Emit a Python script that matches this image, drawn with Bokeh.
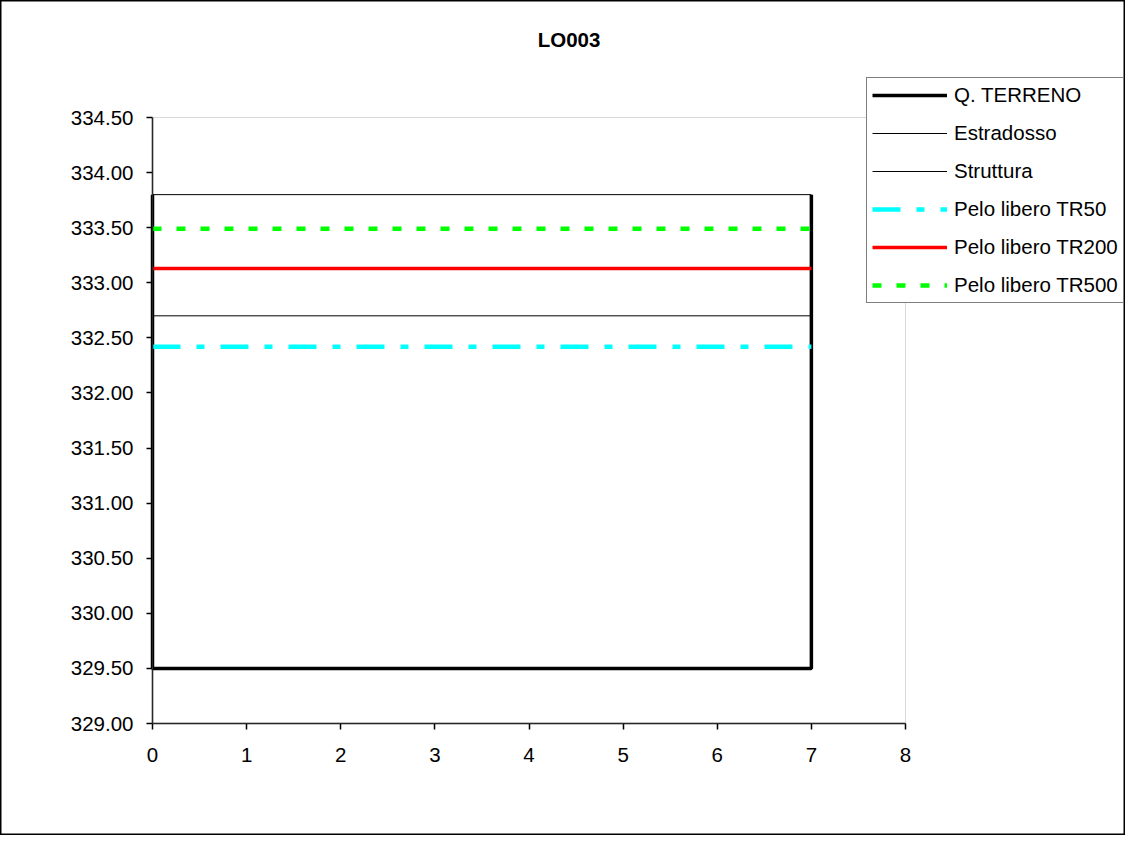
from bokeh.plotting import figure
from bokeh.models import (Range1d, FixedTicker, PrintfTickFormatter, Legend, LegendItem,
                          Label, BoxAnnotation)
from bokeh.embed import file_html
from bokeh.resources import INLINE

title_text = "LO003"
x_terrain = [0, 0, 7, 7]
y_terrain = [333.80, 329.50, 329.50, 333.80]
x_span = [0, 7]
estradosso = [333.80, 333.80]
struttura = [332.70, 332.70]
tr50 = [332.42, 332.42]
tr200 = [333.13, 333.13]
tr500 = [333.49, 333.49]
x_ticks = [0, 1, 2, 3, 4, 5, 6, 7, 8]
y_ticks = [329.0, 329.5, 330.0, 330.5, 331.0, 331.5, 332.0, 332.5, 333.0, 333.5, 334.0, 334.5]
labels = ["Q. TERRENO", "Estradosso", "Struttura", "Pelo libero TR50",
          "Pelo libero TR200", "Pelo libero TR500"]
X0, X1 = 0, 8
Y0, Y1 = 329.0, 334.5

FONT = "Liberation Sans"
W, H = 1125, 835
# plot-area position on the canvas (pixels)
PL, PR, PT, PB = 152, 905, 117, 723
sx = (PR - PL) / (X1 - X0)
sy = (PB - PT) / (Y1 - Y0)
x_range = Range1d(X0 - PL / sx, X1 + (W - PR) / sx)
y_range = Range1d(Y0 - (H - PB) / sy, Y1 + PT / sy)

p = figure(width=W, height=H, output_backend="svg", toolbar_location=None, title=None,
           x_range=x_range, y_range=y_range,
           min_border=0, min_border_left=0, min_border_right=0,
           min_border_top=0, min_border_bottom=0)
p.xgrid.visible = False
p.ygrid.visible = False
p.outline_line_color = "black"
p.outline_line_width = 2
p.background_fill_color = "white"
p.border_fill_color = "white"

# plot-area border (grey, top/right visible)
p.add_layout(BoxAnnotation(left=X0, right=X1, bottom=Y0, top=Y1, fill_alpha=0,
                           line_color="#808080", line_width=1))

for ax in (p.xaxis[0], p.yaxis[0]):
    ax.axis_line_color = "black"
    ax.axis_line_width = 1.5
    ax.major_tick_line_color = "black"
    ax.major_tick_line_width = 1.5
    ax.major_tick_out = 6
    ax.major_tick_in = 0
    ax.minor_tick_line_color = None
    ax.major_label_text_font = FONT
    ax.major_label_text_font_size = "20.5px"
    ax.major_label_text_color = "black"

p.xaxis[0].ticker = FixedTicker(ticks=x_ticks)
p.yaxis[0].ticker = FixedTicker(ticks=y_ticks)
p.yaxis[0].formatter = PrintfTickFormatter(format="%.2f")
p.xaxis[0].fixed_location = Y0
p.yaxis[0].fixed_location = X0
p.xaxis[0].bounds = (X0, X1)
p.yaxis[0].bounds = (Y0, Y1)
p.xaxis[0].major_label_standoff = 18
p.yaxis[0].major_label_standoff = 13

r_ter = p.line(x_terrain, y_terrain, line_color="black", line_width=3.5)
r_est = p.line(x_span, estradosso, line_color="black", line_width=1)
r_str = p.line(x_span, struttura, line_color="black", line_width=1)
r_50 = p.line(x_span, tr50, line_color="#00FFFF", line_width=4.5, line_dash="28 16 8 16")
r_200 = p.line(x_span, tr200, line_color="#FF0000", line_width=3.5)
r_500 = p.line(x_span, tr500, line_color="#00FF00", line_width=4.5, line_dash="9 15")

items = [LegendItem(label=l, renderers=[r]) for l, r in
         zip(labels, [r_ter, r_est, r_str, r_50, r_200, r_500])]
legend = Legend(items=items, location=(866, H - 303), orientation="vertical",
                glyph_width=75, glyph_height=24, label_height=24, spacing=14,
                padding=5, margin=0, label_standoff=7,
                label_text_font=FONT, label_text_font_size="20.5px",
                label_text_color="black",
                border_line_color="black", border_line_width=1.5,
                background_fill_color="white", background_fill_alpha=1.0)
p.add_layout(legend, "center")

title = Label(x=568.5, y=H - 39, x_units="screen", y_units="screen", text=title_text,
              text_font=FONT, text_font_size="20.5px", text_font_style="bold",
              text_align="center", text_baseline="middle", text_color="black")
p.add_layout(title)

open("out.html", "w").write(file_html(p, INLINE))
